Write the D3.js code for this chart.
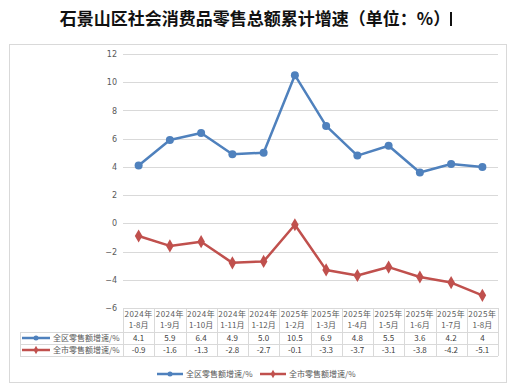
<!DOCTYPE html>
<html>
<head>
<meta charset="utf-8">
<script src="https://d3js.org/d3.v7.min.js"></script>
<style>
    body { margin: 0; background: #fff; font-family: "Noto Sans CJK SC", "DejaVu Sans", sans-serif; }
    .tick text { fill: #595959; font-size: 8px; font-family: "DejaVu Sans", sans-serif; }
    .cell { font-size: 8px; fill: #404040; }
    .hdr { font-size: 8px; fill: #595959; }
</style>
</head>
<body>
<div id="chart"></div>
<script>
    var months = ["2024年|1-8月", "2024年|1-9月", "2024年|1-10月", "2024年|1-11月", "2024年|1-12月",
        "2025年|1-2月", "2025年|1-3月", "2025年|1-4月", "2025年|1-5月", "2025年|1-6月", "2025年|1-7月", "2025年|1-8月"];
    var districtGrowth = [4.1, 5.9, 6.4, 4.9, 5.0, 10.5, 6.9, 4.8, 5.5, 3.6, 4.2, 4];
    var districtLabels = ["4.1", "5.9", "6.4", "4.9", "5.0", "10.5", "6.9", "4.8", "5.5", "3.6", "4.2", "4"];
    var cityGrowth = [-0.9, -1.6, -1.3, -2.8, -2.7, -0.1, -3.3, -3.7, -3.1, -3.8, -4.2, -5.1];
    var yTicks = [-6, -4, -2, 0, 2, 4, 6, 8, 10, 12];
    var seriesNames = ["全区零售额增速/%", "全市零售额增速/%"];
    var seriesColors = ["#4f81bd", "#c0504d"];

    var width = 512, height = 390;
    var svg = d3.select("#chart").append("svg")
        .attr("width", width)
        .attr("height", height);

    // title
    svg.append("text")
        .attr("x", 255).attr("y", 25)
        .attr("text-anchor", "middle")
        .style("font-size", "17px")
        .style("font-weight", "bold")
        .style("fill", "#111")
        .text("石景山区社会消费品零售总额累计增速（单位：%）");
    svg.append("rect").attr("x", 450).attr("y", 12).attr("width", 2).attr("height", 14).attr("fill", "#111");

    // outer box
    svg.append("rect")
        .attr("x", 9.5).attr("y", 44.5).attr("width", 497).attr("height", 338)
        .attr("fill", "none").attr("stroke", "#d9d9d9");

    var plotLeft = 123, plotRight = 498, plotTop = 54, plotBottom = 308;
    var x = d3.scaleBand().domain(d3.range(months.length)).range([plotLeft, plotRight]);
    var y = d3.scaleLinear().domain([-6, 12]).range([plotBottom, plotTop]);

    // gridlines
    svg.append("g").selectAll("line").data(yTicks).join("line")
        .attr("x1", plotLeft).attr("x2", plotRight)
        .attr("y1", function (d) { return Math.round(y(d)) + 0.5; })
        .attr("y2", function (d) { return Math.round(y(d)) + 0.5; })
        .attr("stroke", "#d9d9d9");

    var yAxis = svg.append("g")
        .attr("transform", "translate(" + (plotLeft - 6) + ",0)")
        .call(d3.axisLeft(y).tickValues(yTicks).tickSize(0).tickPadding(0));
    yAxis.select(".domain").remove();

    // data table
    var rowY = [308, 332, 344, 356];
    var table = svg.append("g");
    [1, 2, 3].forEach(function (i) {
        table.append("line").attr("x1", 20).attr("x2", plotRight)
            .attr("y1", rowY[i] + 0.5).attr("y2", rowY[i] + 0.5).attr("stroke", "#d9d9d9");
    });
    table.selectAll("line.v").data(d3.range(months.length + 1)).join("line")
        .attr("class", "v")
        .attr("x1", function (i) { return Math.round(plotLeft + i * x.bandwidth()) + 0.5; })
        .attr("x2", function (i) { return Math.round(plotLeft + i * x.bandwidth()) + 0.5; })
        .attr("y1", rowY[0]).attr("y2", rowY[3])
        .attr("stroke", "#d9d9d9");
    table.append("line").attr("x1", 20.5).attr("x2", 20.5).attr("y1", rowY[1]).attr("y2", rowY[3]).attr("stroke", "#d9d9d9");

    months.forEach(function (m, i) {
        var parts = m.split("|");
        var cx = x(i) + x.bandwidth() / 2;
        table.append("text").attr("class", "hdr").attr("x", cx).attr("y", 317)
            .attr("text-anchor", "middle").style("letter-spacing", "0.5px").text(parts[0]);
        table.append("text").attr("class", "hdr").attr("x", cx).attr("y", 328)
            .attr("text-anchor", "middle").text(parts[1]);
    });

    table.selectAll("text.r1").data(districtLabels).join("text")
        .attr("class", "cell r1")
        .attr("x", function (d, i) { return x(i) + x.bandwidth() / 2; })
        .attr("y", 341).attr("text-anchor", "middle")
        .text(function (d) { return d; });
    table.selectAll("text.r2").data(cityGrowth).join("text")
        .attr("class", "cell r2")
        .attr("x", function (d, i) { return x(i) + x.bandwidth() / 2; })
        .attr("y", 353).attr("text-anchor", "middle")
        .text(function (d) { return d.toFixed(1); });

    function drawKey(g, cx, cy, idx, len) {
        g.append("line").attr("x1", cx - len / 2).attr("x2", cx + len / 2).attr("y1", cy).attr("y2", cy)
            .attr("stroke", seriesColors[idx]).attr("stroke-width", 2.5);
        if (idx === 0) {
            g.append("circle").attr("cx", cx).attr("cy", cy).attr("r", 2.5).attr("fill", seriesColors[idx]);
        } else {
            g.append("path").attr("d", d3.symbol(d3.symbolDiamond, 20)())
                .attr("transform", "translate(" + cx + "," + cy + ")").attr("fill", seriesColors[idx]);
        }
    }
    [0, 1].forEach(function (i) {
        var cy = (rowY[i + 1] + rowY[i + 2]) / 2;
        drawKey(table, 36, cy, i, 28);
        table.append("text").attr("class", "hdr").attr("x", 53).attr("y", cy + 3).text(seriesNames[i]);
    });

    var line = function (vals) {
        return d3.line()
            .x(function (d, i) { return x(i) + x.bandwidth() / 2; })
            .y(function (d) { return y(d); })(vals);
    };
    svg.append("path").attr("d", line(cityGrowth)).attr("fill", "none")
        .attr("stroke", seriesColors[1]).attr("stroke-width", 2.5).attr("stroke-linejoin", "round");
    svg.append("g").selectAll("path").data(cityGrowth).join("path")
        .attr("d", d3.symbol(d3.symbolDiamond, 50)())
        .attr("transform", function (d, i) { return "translate(" + (x(i) + x.bandwidth() / 2) + "," + y(d) + ")"; })
        .attr("fill", seriesColors[1]);

    svg.append("path").attr("d", line(districtGrowth)).attr("fill", "none")
        .attr("stroke", seriesColors[0]).attr("stroke-width", 2.5).attr("stroke-linejoin", "round");
    svg.append("g").selectAll("circle").data(districtGrowth).join("circle")
        .attr("cx", function (d, i) { return x(i) + x.bandwidth() / 2; })
        .attr("cy", function (d) { return y(d); })
        .attr("r", 4)
        .attr("fill", seriesColors[0]);

    var legend = svg.append("g");
    drawKey(legend, 170, 374, 0, 26);
    legend.append("text").attr("class", "hdr").attr("x", 186).attr("y", 377).text(seriesNames[0]);
    drawKey(legend, 273, 374, 1, 26);
    legend.append("text").attr("class", "hdr").attr("x", 289).attr("y", 377).text(seriesNames[1]);
</script>
</body>
</html>
